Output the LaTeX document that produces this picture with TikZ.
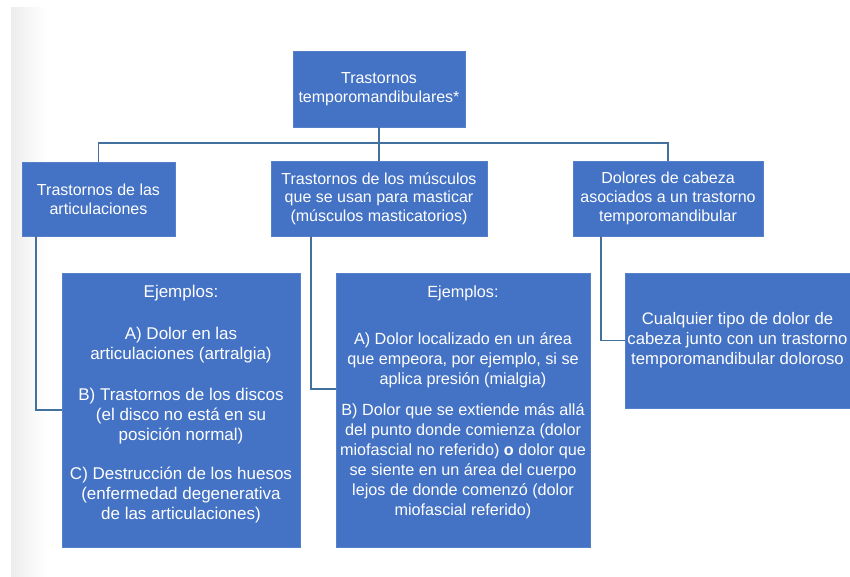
\documentclass[tikz,border=0pt]{standalone}
\usepackage{fontspec}
\setmainfont{Liberation Sans}
\definecolor{boxblue}{HTML}{4472C4}
\definecolor{linkcol}{HTML}{41719C}
\tikzset{
  box/.style={fill=boxblue, draw=boxblue!90!white, line width=0.6pt, text=white, align=center, inner sep=0pt},
  hdr/.style={box, font=\fontsize{16}{18.7}\selectfont},
  txt/.style={text=white, align=center, inner sep=0pt, font=\fontsize{17}{20}\selectfont},
  link/.style={draw=linkcol, line width=1.8pt}
}
\begin{document}
\begin{tikzpicture}[x=1pt,y=-1pt]
\useasboundingbox (0,0) rectangle (850,577);
\shade[left color=black!7, right color=white] (11,8) rectangle (46,577);

\node[hdr, minimum width=172pt, minimum height=76pt] (top) at (379,89) {Trastornos\\temporomandibulares*};
\node[hdr, minimum width=153pt, minimum height=74pt] (b1) at (98.5,199) {Trastornos de las\\articulaciones};
\node[hdr, minimum width=216pt, minimum height=75pt] (b2) at (379,198.5) {Trastornos de los músculos\\que se usan para masticar\\(músculos masticatorios)};
\node[hdr, minimum width=190pt, minimum height=75pt] (b3) at (668,198.5) {Dolores de cabeza\\asociados a un trastorno\\temporomandibular};

\node[box, minimum width=238pt, minimum height=274pt] (b4) at (181,410) {};
\node[txt] (t4) at (181,404) {Ejemplos:\\[22pt]A) Dolor en las\\articulaciones (artralgia)\\[21pt]B) Trastornos de los discos\\(el disco no está en su\\posición normal)\\[19pt]C) Destrucción de los huesos\\(enfermedad degenerativa\\de las articulaciones)};

\node[box, minimum width=254pt, minimum height=274pt] (b5) at (463,410) {};
\node[txt, font=\fontsize{16.2}{20}\selectfont] (t5) at (463,402.5) {Ejemplos:\\[27pt]A) Dolor localizado en un área\\que empeora, por ejemplo, si se\\aplica presión (mialgia)\\[11pt]B) Dolor que se extiende más allá\\del punto donde comienza (dolor\\miofascial no referido) \textbf{o} dolor que\\se siente en un área del cuerpo\\lejos de donde comenzó (dolor\\miofascial referido)};

\node[box, minimum width=225pt, minimum height=135pt, font=\fontsize{16.7}{20}\selectfont] (b6) at (737.5,340.5) {Cualquier tipo de dolor de\\cabeza junto con un trastorno\\temporomandibular doloroso};

\coordinate (bus) at (379,143);
\draw[link] (top.south) -- (bus);
\draw[link] (b1.north) |- (bus) -| (b3.north);
\draw[link] (bus) -- (b2.north);
\draw[link] ([xshift=14pt]b1.south west) |- (b4.west);
\draw[link] ([xshift=40pt]b2.south west) |- ([yshift=21pt]b5.west);
\draw[link] ([xshift=28pt]b3.south west) |- (b6.west);
\end{tikzpicture}
\end{document}
